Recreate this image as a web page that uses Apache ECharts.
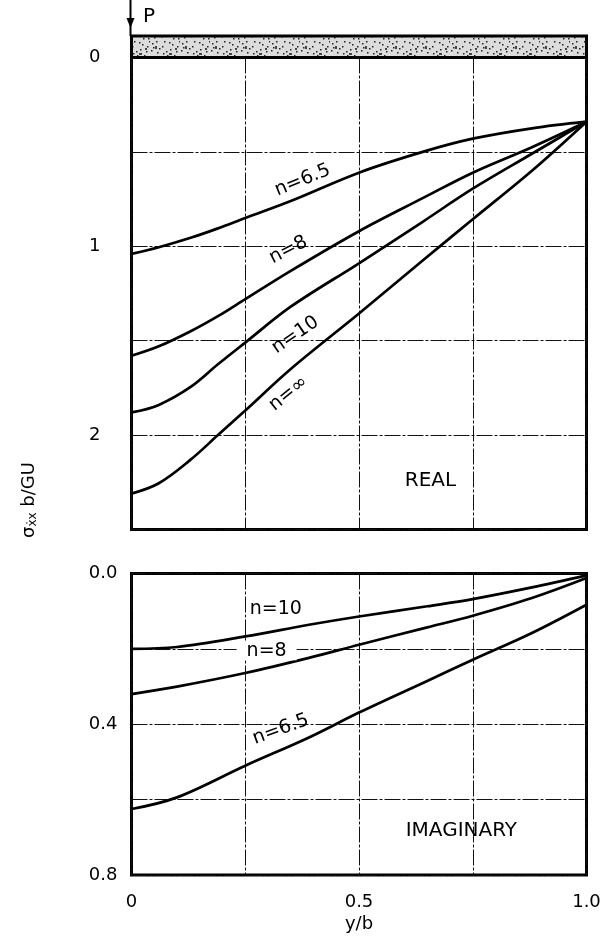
<!DOCTYPE html>
<html>
<head>
<meta charset="utf-8">
<script src="https://cdn.jsdelivr.net/npm/echarts@6/dist/echarts.min.js"></script>
<style>
html,body{margin:0;padding:0;background:#fff;}
#chart{width:615px;height:944px;}
</style>
</head>
<body>
<div id="chart"></div>
<script>
// ---- data: REAL part (top panel) ----
var realX = [0, 0.06, 0.13, 0.19, 0.25, 0.35, 0.5, 0.64, 0.75, 0.88, 1.0];
var realN65 = [1.04, 1.005, 0.955, 0.905, 0.85, 0.76, 0.61, 0.50, 0.43, 0.375, 0.34];
var realN8 = [1.58, 1.53, 1.45, 1.37, 1.28, 1.13, 0.92, 0.745, 0.61, 0.475, 0.34];
var realN10 = [1.88, 1.84, 1.745, 1.625, 1.51, 1.32, 1.09, 0.87, 0.695, 0.51, 0.34];
var realNinf = [2.31, 2.255, 2.13, 2.0, 1.87, 1.65, 1.356, 1.075, 0.857, 0.60, 0.34];

// ---- data: IMAGINARY part (bottom panel) ----
var imagX = [0, 0.1, 0.25, 0.39, 0.5, 0.65, 0.75, 0.88, 1.0];
var imagN10 = [0.20, 0.195, 0.167, 0.136, 0.114, 0.087, 0.068, 0.037, 0.005];
var imagN8 = [0.32, 0.30, 0.264, 0.224, 0.189, 0.143, 0.112, 0.065, 0.012];
var imagN65 = [0.625, 0.594, 0.51, 0.435, 0.369, 0.285, 0.229, 0.158, 0.083];

// ---- tick labels ----
var realTickLabels = {0: '0', 1: '1', 2: '2'};
var imagTickLabels = ['0.0', '0.4', '0.8'];
var xTickLabels = {0: '0', 0.5: '0.5', 1: '1.0'};

function pairs(xs, ys) { return xs.map(function (x, i) { return [x, ys[i]]; }); }

var FONT = 'DejaVu Sans';
var chart = echarts.init(document.getElementById('chart'), null, {renderer: 'canvas'});

var splitStyle = {show: true, lineStyle: {color: '#111', width: 1, type: [16, 2, 3, 2]}};

function lineSeries(name, xi, yi, xs, ys) {
  return {
    name: name, type: 'line', xAxisIndex: xi, yAxisIndex: yi,
    data: pairs(xs, ys), smooth: 0.35, showSymbol: false, symbol: 'none',
    lineStyle: {color: '#000', width: 2.7}, silent: true, z: 5
  };
}

var option = {
  backgroundColor: '#fff',
  animation: false,
  grid: [
    {left: 131.5, top: 57.5, width: 455, height: 472, show: true, borderColor: '#000', borderWidth: 3, backgroundColor: 'transparent', containLabel: false},
    {left: 131.5, top: 573.5, width: 455, height: 301.5, show: true, borderColor: '#000', borderWidth: 3, backgroundColor: 'transparent', containLabel: false}
  ],
  xAxis: [
    {type: 'value', gridIndex: 0, min: 0, max: 1, interval: 0.25,
     axisLine: {show: false}, axisTick: {show: false}, axisLabel: {show: false}, splitLine: splitStyle},
    {type: 'value', gridIndex: 1, min: 0, max: 1, interval: 0.25,
     axisLine: {show: false}, axisTick: {show: false}, splitLine: splitStyle,
     axisLabel: {show: true, margin: 18, color: '#000', fontFamily: FONT, fontSize: 18,
       formatter: function (v) { var k = Math.round(v * 100) / 100; return xTickLabels[k] !== undefined ? xTickLabels[k] : ''; }},
     name: 'y/b', nameLocation: 'middle', nameGap: 40,
     nameTextStyle: {color: '#000', fontFamily: FONT, fontSize: 18}}
  ],
  yAxis: [
    {type: 'value', gridIndex: 0, min: 0, max: 2.5, interval: 0.5, inverse: true,
     axisLine: {show: false}, axisTick: {show: false}, splitLine: splitStyle,
     axisLabel: {show: true, margin: 31, color: '#000', fontFamily: FONT, fontSize: 18,
       formatter: function (v) { var k = Math.round(v * 100) / 100; return realTickLabels[k] !== undefined ? realTickLabels[k] : ''; }}},
    {type: 'value', gridIndex: 1, min: 0, max: 0.8, interval: 0.2, inverse: true,
     axisLine: {show: false}, axisTick: {show: false}, splitLine: splitStyle,
     axisLabel: {show: true, margin: 14, color: '#000', fontFamily: FONT, fontSize: 18,
       formatter: function (v) { var k = Math.round(v * 10); return (k % 4 === 0) ? imagTickLabels[k / 4] : ''; }}}
  ],
  series: [
    lineSeries('n=6.5', 0, 0, realX, realN65),
    lineSeries('n=8', 0, 0, realX, realN8),
    lineSeries('n=10', 0, 0, realX, realN10),
    lineSeries('n=∞', 0, 0, realX, realNinf),
    lineSeries('n=10 im', 1, 1, imagX, imagN10),
    lineSeries('n=8 im', 1, 1, imagX, imagN8),
    lineSeries('n=6.5 im', 1, 1, imagX, imagN65)
  ]
};
chart.setOption(option);

// stipple pattern for the loaded beam
var pc = document.createElement('canvas');
pc.width = 30; pc.height = 20;
var g = pc.getContext('2d');
g.fillStyle = '#dcdcdc'; g.fillRect(0, 0, 30, 20);
g.fillStyle = '#222';
var dots = [[2,3],[7,12],[12,6],[17,15],[22,4],[26,11],[4,17],[14,1],[20,9],[9,8],[28,18],[24,15],[1,10],[16,11],[11,16],[6,1],[19,2],[27,6],[13,13],[23,18],[3,7],[29,1]];
dots.forEach(function (d) { g.fillRect(d[0], d[1], 1.5, 1.5); });
g.fillStyle = '#444';
g.fillRect(5, 6, 2, 3); g.fillRect(19, 13, 3, 2); g.fillRect(25, 8, 2, 2);

function px(gi, x, y) { return chart.convertToPixel({gridIndex: gi}, [x, y]); }

function label(gi, x, y, text, rotDeg, opts) {
  var p = px(gi, x, y);
  opts = opts || {};
  var st = {text: text, x: 0, y: 0, fill: '#000', font: (opts.size || 18) + 'px "' + FONT + '"',
    align: 'center', verticalAlign: 'middle', textAlign: 'center', textVerticalAlign: 'middle'};
  if (opts.bg) { st.backgroundColor = '#fff'; st.padding = [0, 10]; }
  return {type: 'text', x: p[0], y: p[1], rotation: (rotDeg || 0) * Math.PI / 180, z: 20, style: st, silent: true};
}

var tl = px(0, 0, 0), tr = px(0, 1, 0);
var graphics = [
  {type: 'rect', shape: {x: tl[0], y: 36, width: tr[0] - tl[0], height: tl[1] - 36},
   style: {fill: {image: pc, repeat: 'repeat'}, stroke: '#000', lineWidth: 3}, z: 10, silent: true},
  {type: 'line', shape: {x1: tl[0] - 1, y1: 0, x2: tl[0] - 1, y2: 36}, style: {stroke: '#000', lineWidth: 2}, z: 10, silent: true},
  {type: 'polygon', shape: {points: [[tl[0] - 5, 18], [tl[0] + 3, 18], [tl[0] - 1, 28]]}, style: {fill: '#000'}, z: 10, silent: true},
  {type: 'text', x: 143, y: 17, z: 10, silent: true,
   style: {text: 'P', fill: '#000', font: '20px "' + FONT + '"', align: 'left', verticalAlign: 'middle', textAlign: 'left', textVerticalAlign: 'middle'}},
  // top panel labels
  label(0, 0.376, 0.65, 'n=6.5', 22, {size: 19}),
  label(0, 0.345, 1.02, 'n=8', 27, {size: 19}),
  label(0, 0.36, 1.47, 'n=10', 34, {size: 19}),
  label(0, 0.345, 1.78, 'n=∞', 39, {size: 19}),
  label(0, 0.657, 2.24, 'REAL', 0, {size: 20}),
  // bottom panel labels
  label(1, 0.317, 0.094, 'n=10', 0, {size: 19}),
  label(1, 0.297, 0.205, 'n=8', 0, {bg: true, size: 19}),
  label(1, 0.328, 0.414, 'n=6.5', 20, {size: 19}),
  label(1, 0.725, 0.684, 'IMAGINARY', 0, {size: 20}),
  // y axis name
  {type: 'text', x: 29, y: 500, rotation: Math.PI / 2, z: 10, silent: true,
   style: {text: '{a|σ}{b|ẋx}{a| b/GU}', x: 0, y: 0, align: 'center', verticalAlign: 'middle', textAlign: 'center', textVerticalAlign: 'middle',
     rich: {a: {fontFamily: FONT, fontSize: 18, fill: '#000', color: '#000'}, b: {fontFamily: FONT, fontSize: 12, fill: '#000', color: '#000', padding: [8, 0, 0, 0]}}}}
];
chart.setOption({graphic: graphics});
</script>
</body>
</html>
